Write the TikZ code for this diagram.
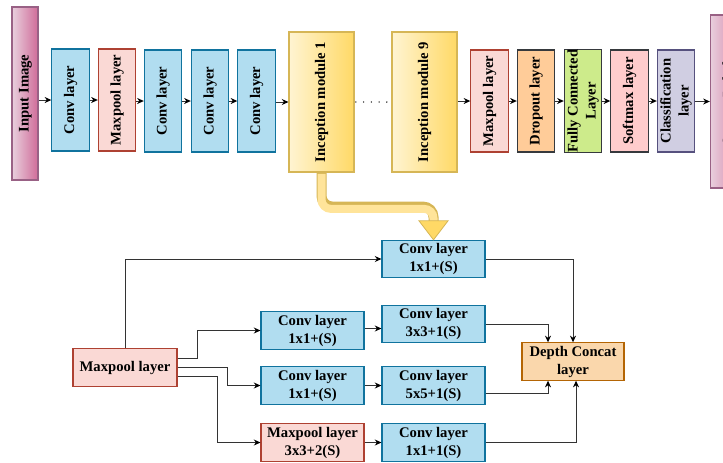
\documentclass[tikz,border=0pt]{standalone}
\usepackage{graphicx}
\usepackage{fontspec}
\setmainfont{Liberation Serif}
\usetikzlibrary{arrows.meta}
\definecolor{convfill}{HTML}{B1DDF0}
\definecolor{convline}{HTML}{10739E}
\definecolor{poolfill}{HTML}{FAD9D5}
\definecolor{poolline}{HTML}{AE4132}
\definecolor{dropfill}{HTML}{FFCC99}
\definecolor{fcfill}{HTML}{CDEB8B}
\definecolor{smfill}{HTML}{FFCCCC}
\definecolor{darkline}{HTML}{36393D}
\definecolor{clfill}{HTML}{D0CEE2}
\definecolor{clline}{HTML}{56517E}
\definecolor{dcfill}{HTML}{FAD7AC}
\definecolor{dcline}{HTML}{B46504}
\definecolor{imgL}{HTML}{E8CFDD}
\definecolor{imgR}{HTML}{D06C99}
\definecolor{imgline}{HTML}{996185}
\definecolor{incL}{HTML}{FFF4D2}
\definecolor{incR}{HTML}{FFD966}
\definecolor{incline}{HTML}{D6B656}
\definecolor{incfill}{HTML}{FFE49A}
\newcommand\vt[1]{\rotatebox{90}{\begin{tabular}{@{}c@{}}#1\end{tabular}}}

\begin{document}
\begin{tikzpicture}[x=0.75pt, y=-0.75pt,
  box/.style={draw, line width=0.8pt, inner sep=0pt, align=center,
    font=\fontsize{11}{13.5}\selectfont\bfseries},
  vbox/.style={box, minimum width=28pt, minimum height=76.5pt},
  hbox/.style={box, minimum width=77.25pt, minimum height=28pt},
  conv/.style={fill=convfill, draw=convline},
  pool/.style={fill=poolfill, draw=poolline},
  grad/.style={box, minimum width=#1, left color=imgL, right color=imgR, draw=imgline, minimum height=129.75pt},
  incbox/.style={box, minimum width=48.75pt, minimum height=105pt, left color=incL, right color=incR, draw=incline},
  link/.style={draw=black!80, line width=0.75pt, -{Stealth[length=5pt,width=4.5pt,color=black]}}]
\clip (0,0) rectangle (723,462);
\node[grad=19.5pt] (inp) at (25,93.5) {\vt{Input Image}};
\node[vbox, conv] (cv1) at (70.5,100) {\vt{Conv layer}};
\node[vbox, pool] (mp1) at (117,100) {\vt{Maxpool layer}};
\node[vbox, conv] (cv2) at (163,101) {\vt{Conv layer}};
\node[vbox, conv] (cv3) at (210,101) {\vt{Conv layer}};
\node[vbox, conv] (cv4) at (256.5,101) {\vt{Conv layer}};
\node[incbox] (inc1) at (321.5,102) {\vt{Inception module 1}};
\node[incbox] (inc9) at (424.5,102) {\vt{Inception module 9}};
\node[vbox, pool] (mp2) at (489.5,101) {\vt{Maxpool layer}};
\node[vbox, fill=dropfill, draw=darkline] (dr) at (536,101) {\vt{Dropout layer}};
\node[vbox, fill=fcfill, draw=darkline] (fc) at (583,101) {\vt{Fully Connected\\Layer}};
\node[vbox, fill=smfill, draw=darkline] (sm) at (629.5,101) {\vt{Softmax layer}};
\node[vbox, fill=clfill, draw=clline] (cl) at (676,101) {\vt{Classification\\layer}};
\node[grad=28pt] (out) at (729,101.5) {\vt{Output Labels}};
\foreach \a/\b in {inp/cv1, cv1/mp1, mp1/cv2, cv2/cv3, cv3/cv4, cv4/inc1, inc9/mp2, mp2/dr, dr/fc, fc/sm, sm/cl, cl/out}
  \draw[link] (\a.east |- \b.west) -- (\b.west);
\draw[black!85, line width=1.2pt, line cap=round, dash pattern=on 0pt off 5.8pt] ([xshift=1pt]inc1.east) -- (inc9.west);
\node[hbox, pool, minimum width=78pt] (mpA) at (125,367.5) {Maxpool layer};
\node[hbox, conv] (c1) at (312.5,330.5) {Conv layer\\1x1+(S)};
\node[hbox, conv] (c2) at (312.5,385.5) {Conv layer\\1x1+(S)};
\node[hbox, pool] (mpB) at (312.5,442.5) {Maxpool layer\\3x3+2(S)};
\node[hbox, conv] (t0) at (433.5,259) {Conv layer\\1x1+(S)};
\node[hbox, conv] (t1) at (433.5,324) {Conv layer\\3x3+1(S)};
\node[hbox, conv] (t2) at (433.5,385.5) {Conv layer\\5x5+1(S)};
\node[hbox, conv] (t3) at (433.5,442.5) {Conv layer\\1x1+1(S)};
\node[hbox, fill=dcfill, draw=dcline, minimum width=76.5pt] (dc) at (573,361.5) {Depth Concat\\layer};
\coordinate (tipbase) at ([yshift=14.25pt]t0.north);
\draw[line width=7.5pt, incline, rounded corners=8pt] (inc1.south) -- ++(0,34) -| (tipbase);
\draw[line width=6pt, incfill, rounded corners=7pt] ([yshift=-1pt]inc1.south) -- ++(0,35) -| ([yshift=-1pt]tipbase);
\filldraw[fill=incR, draw=incline, line width=0.6pt] ([xshift=-10.9pt]tipbase) -- ([xshift=10.9pt]tipbase) -- (t0.north) -- cycle;
\draw[link] (mpA.north) |- (t0.west);
\draw[link] ([yshift=7pt]mpA.east) -- ++(20,0) |- (c1.west);
\draw[link] (mpA.east) -- ++(50,0) |- (c2.west);
\draw[link] ([yshift=-7pt]mpA.east) -- ++(40,0) |- (mpB.west);
\draw[link] ([yshift=1.5pt]c1.east) -- ([yshift=1.5pt]c1.east -| t1.west);
\draw[link] (c2.east) -- (t2.west);
\draw[link] (mpB.east) -- (t3.west);
\draw[link] (t0.east) -| (dc.north);
\draw[link] (t1.east) -| ([xshift=-18.75pt]dc.north);
\draw[link] ([yshift=-6pt]t2.east) -| ([xshift=-18.75pt]dc.south);
\draw[link] (t3.east) -| ([xshift=2.25pt]dc.south);
\end{tikzpicture}
\end{document}
